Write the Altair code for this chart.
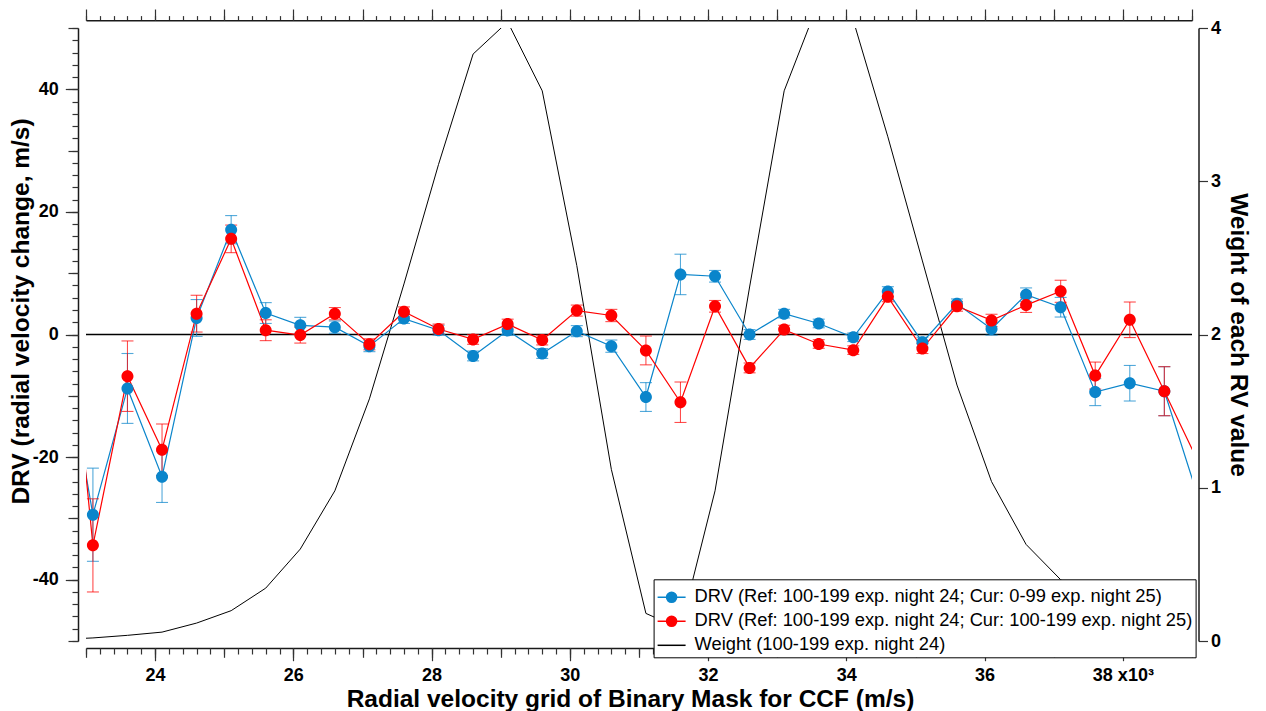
import altair as alt
import pandas as pd

# ---------------- data ----------------
rv_grid = [22600, 23100, 23600, 24100, 24600, 25100, 25600, 26100, 26600, 27100,
           27600, 28100, 28600, 29100, 29600, 30100, 30600, 31100, 31600, 32100,
           32600, 33100, 33600, 34100, 34600, 35100, 35600, 36100, 36600, 37100,
           37600, 38100, 38600, 39100]

drv_cur0 = [3.0, -29.4, -8.8, -23.2, 2.7, 17.1, 3.5, 1.5, 1.2, -1.9,
            2.6, 0.7, -3.5, 0.65, -3.1, 0.55, -1.9, -10.2, 9.8, 9.5,
            0.0, 3.4, 1.8, -0.45, 7.0, -1.25, 5.0, 0.9, 6.5, 4.45,
            -9.4, -7.95, -9.25, -26.95]
err_cur0 = [8.0, 7.6, 5.7, 4.2, 3.0, 2.3, 1.7, 1.3, 1.0, 0.9,
            0.8, 0.8, 0.8, 0.8, 0.8, 0.9, 1.0, 2.35, 3.3, 0.95,
            0.8, 0.7, 0.7, 0.7, 0.8, 0.8, 0.8, 1.0, 1.1, 1.6,
            2.2, 2.9, 4.0, 5.05]

drv_cur1 = [23.0, -34.4, -6.8, -18.8, 3.4, 15.6, 0.7, -0.1, 3.4, -1.6,
            3.7, 0.9, -0.8, 1.7, -0.9, 3.9, 3.1, -2.6, -11.05, 4.6,
            -5.45, 0.8, -1.55, -2.55, 6.15, -2.3, 4.6, 2.3, 4.8, 7.05,
            -6.7, 2.4, -9.25, -21.0]
err_cur1 = [8.0, 7.6, 5.75, 4.2, 3.0, 2.25, 1.7, 1.3, 1.0, 0.9,
            0.8, 0.8, 0.8, 0.8, 0.8, 0.9, 1.0, 2.35, 3.3, 0.95,
            0.8, 0.7, 0.7, 0.7, 0.8, 0.8, 0.8, 1.0, 1.2, 1.8,
            2.2, 2.9, 4.0, 5.05]

weight = [0.01, 0.02, 0.037, 0.058, 0.117, 0.198, 0.345, 0.60, 0.98, 1.58,
          2.33, 3.11, 3.83, 4.04, 3.59, 2.45, 1.12, 0.18, 0.08, 0.98,
          2.31, 3.59, 4.17, 4.05, 3.29, 2.48, 1.67, 1.04, 0.63, 0.40,
          0.25, 0.15, 0.08, 0.05]

S_CUR0 = "DRV (Ref: 100-199 exp. night 24; Cur: 0-99 exp. night 25)"
S_CUR1 = "DRV (Ref: 100-199 exp. night 24; Cur: 100-199 exp. night 25)"
S_W = "Weight (100-199 exp. night 24)"
series_names = [S_CUR0, S_CUR1, S_W]
series_colors = ["#0A85CB", "#FF0000", "#000000"]

# tick positions / labels
x_label_ticks = [24000, 26000, 28000, 30000, 32000, 34000, 36000, 38000]
x_mid_ticks = list(range(23000, 39001, 1000))
x_minor_ticks = list(range(23000, 39001, 200))
y_label_ticks = [-40, -20, 0, 20, 40]
y_mid_ticks = list(range(-50, 51, 10))
y_minor_ticks = list(range(-50, 51, 2))
w_ticks = [0, 1, 2, 3, 4]

x_title = "Radial velocity grid of Binary Mask for CCF (m/s)"
y_title = "DRV (radial velocity change, m/s)"
w_title = "Weight of each RV value"

# ---------------- tables ----------------
n = len(rv_grid)
drv = pd.DataFrame({
    "rv": rv_grid + rv_grid,
    "drv": drv_cur0 + drv_cur1,
    "err": err_cur0 + err_cur1,
    "series": [S_CUR0] * n + [S_CUR1] * n,
})
wdf = pd.DataFrame({"rv": rv_grid, "w": weight, "series": [S_W] * n})
zero = pd.DataFrame({"level": [0]})

FONT = "Liberation Sans"
W, H = 1106, 613
TICK_C = "#333333"

label_style = dict(labelFont=FONT, labelFontSize=18, labelFontWeight="bold",
                   labelColor="black", labelOverlap=False, labelFlush=False)
title_style = dict(titleFont=FONT, titleFontSize=24.5, titleFontWeight="bold",
                   titleColor="black")
line_style = dict(domainColor="#1a1a1a", domainWidth=1.5, tickColor=TICK_C,
                  tickWidth=1.2, grid=False)


def tick_axis(orient, values, size, offset):
    return alt.Axis(orient=orient, values=values, tickSize=size, offset=offset,
                    labels=False, title=None, domain=False, grid=False,
                    tickColor=TICK_C, tickWidth=1.2)


legend = alt.Legend(
    title=None, orient="none", legendX=567.6, legendY=551.3, direction="vertical",
    fillColor="white", strokeColor="black", padding=3, rowPadding=0,
    labelFont=FONT, labelFontSize=18.3, labelColor="black", labelLimit=800,
    labelOffset=8, symbolSize=784, symbolStrokeWidth=1.5, symbolOpacity=1,
)
color = alt.Color("series:N", scale=alt.Scale(domain=series_names, range=series_colors),
                  legend=legend)
marker_path = "M-1,0L1,0M0.36,0A0.36,0.36,0,1,1,-0.36,0A0.36,0.36,0,1,1,0.36,0Z"
shape = alt.Shape("series:N",
                  scale=alt.Scale(domain=series_names,
                                  range=[marker_path, marker_path, "stroke"]),
                  legend=legend)

xscale = alt.Scale(domain=[23000, 39000], nice=False, zero=False)
yscale = alt.Scale(domain=[-50, 50], nice=False, zero=False)
wscale = alt.Scale(domain=[0, 4], nice=False, zero=False)

# main (labelled) axes
x_bottom = alt.X("rv:Q", scale=xscale, axis=alt.Axis(
    orient="bottom", values=x_label_ticks, offset=7, tickSize=12.7,
    labelExpr="datum.value === 38000 ? '38 x10\u00b3' : (datum.value / 1000) + ''",
    labelPadding=6, title=x_title, titleX=544, titlePadding=3,
    **label_style, **title_style, **line_style))

x_top = alt.X("rv:Q", scale=xscale, axis=alt.Axis(
    orient="top", values=x_minor_ticks, offset=7.7, tickSize=4.7, labels=False,
    title=None, **line_style))

y_axis = alt.Axis(
    orient="left", values=y_label_ticks, offset=8, tickSize=12.7,
    labelExpr="datum.value + ''", labelPadding=7, title=y_title, titleY=283,
    titlePadding=-1, **label_style, **title_style, **line_style)

y_right = alt.Y("w:Q", scale=wscale, axis=alt.Axis(
    orient="right", values=w_ticks, offset=6.5, tickSize=9, labelPadding=3,
    title=w_title, titlePadding=5, **label_style, **title_style, **line_style))

# ---------------- layers ----------------
weight_line = alt.Chart(wdf).mark_line(strokeWidth=1, clip=True).encode(
    x=x_top, y=y_right, color=color)

zero_rule = alt.Chart(zero).mark_rule(color="black", strokeWidth=1.3).encode(
    y=alt.Y("level:Q", scale=yscale, axis=y_axis))

drv_lines = alt.Chart(drv).mark_line(strokeWidth=1.2, clip=True).encode(
    x=x_bottom, y=alt.Y("drv:Q", scale=yscale, axis=y_axis), color=color)

drv_err = alt.Chart(drv).mark_errorbar(
    ticks={"size": 12}, thickness=1.1, clip=True, opacity=0.7).encode(
    x=x_bottom, y=alt.Y("drv:Q", scale=yscale, axis=y_axis), yError="err:Q",
    color=color)

drv_points = alt.Chart(drv).mark_point(
    filled=True, size=1111, opacity=1, strokeWidth=0, clip=True).encode(
    x=x_bottom, y=alt.Y("drv:Q", scale=yscale, axis=y_axis), color=color,
    shape=shape)

inner = alt.layer(zero_rule, drv_lines, drv_err, drv_points)

# extra tick rows (minor / medium ticks) drawn as additional axes on the same scales
guide_minor = alt.Chart(wdf).mark_point(opacity=0).encode(
    x=alt.X("rv:Q", scale=xscale, axis=tick_axis("bottom", x_minor_ticks, 6, 7)),
    y=alt.Y("w:Q", scale=yscale, axis=tick_axis("left", y_minor_ticks, 6, 8)))

guide_mid = alt.Chart(wdf).mark_point(opacity=0).encode(
    x=alt.X("rv:Q", scale=xscale, axis=tick_axis("bottom", x_mid_ticks, 9.3, 7)),
    y=alt.Y("w:Q", scale=yscale, axis=tick_axis("left", y_mid_ticks, 10, 8)))

guide_top = alt.Chart(wdf).mark_point(opacity=0).encode(
    x=alt.X("rv:Q", scale=xscale, axis=tick_axis("top", x_mid_ticks, 11.3, 7.7)),
    y=alt.Y("w:Q", scale=yscale, axis=None))

chart = alt.layer(weight_line, inner, guide_minor, guide_mid, guide_top).resolve_scale(
    y="independent").resolve_axis(x="independent").properties(
    width=W, height=H, background="white",
    padding={"left": 0, "top": 0, "right": 6, "bottom": 0},
).configure_view(stroke=None)

chart.save("out.html", embed_options={"renderer": "svg", "actions": False})
